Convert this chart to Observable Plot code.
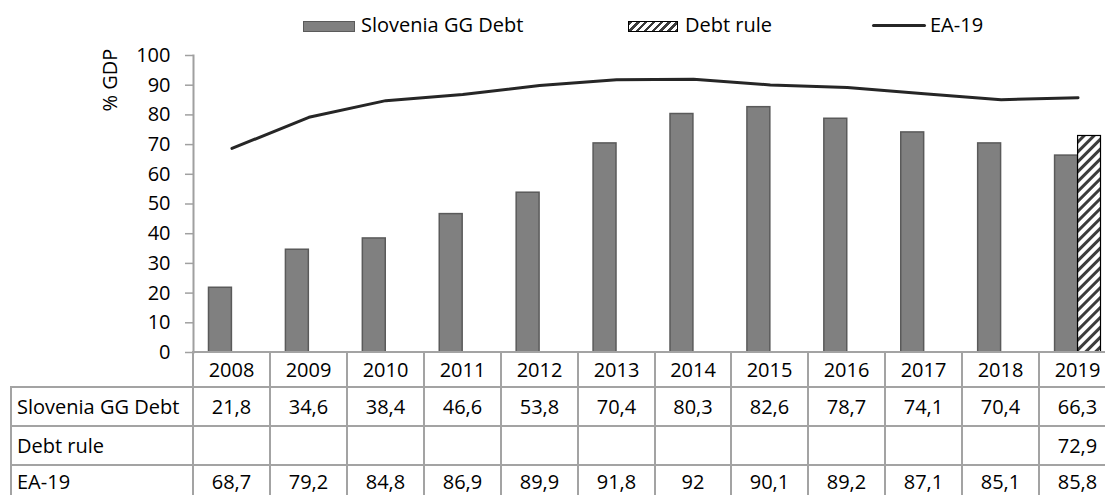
<!DOCTYPE html>
<html><head><meta charset="utf-8">
<script src="https://cdn.jsdelivr.net/npm/d3@7"></script>
<script src="https://cdn.jsdelivr.net/npm/@observablehq/plot@0.6"></script>
<style>
html,body{margin:0;padding:0;background:#fff;overflow:hidden;}
#wrap{position:relative;width:1105px;height:495px;overflow:hidden;font-family:"Open Sans",sans-serif;font-size:20px;color:#000;}
#wrap svg{position:absolute;left:0;top:0;max-width:none !important;}
.abs{position:absolute;white-space:nowrap;}
.cell{position:absolute;box-sizing:border-box;border:2px solid #a3a3a3;display:flex;align-items:center;justify-content:center;line-height:20px;}
.lab{justify-content:flex-start;padding-left:5px;}
.last{border-bottom:none;align-items:flex-start;padding-top:6px;}
</style></head><body><div id="wrap"></div>
<script>
const years = ["2008","2009","2010","2011","2012","2013","2014","2015","2016","2017","2018","2019"];
const sloveniaDebt = [21.8,34.6,38.4,46.6,53.8,70.4,80.3,82.6,78.7,74.1,70.4,66.3];
const debtRule = [null,null,null,null,null,null,null,null,null,null,null,72.9];
const ea19 = [68.7,79.2,84.8,86.9,89.9,91.8,92,90.1,89.2,87.1,85.1,85.8];
const seriesNames = ["Slovenia GG Debt","Debt rule","EA-19"];
const yTicks = [0,10,20,30,40,50,60,70,80,90,100];
const yLabel = "% GDP";

const data = years.map((y,i)=>({year:y, slo:sloveniaDebt[i], rule:debtRule[i], ea:ea19[i]}));
const fmt = v => v == null ? "" : String(v).replace(".", ",");

const wrap = document.getElementById("wrap");

const chart = Plot.plot({
  width: 1130, height: 360,
  marginLeft: 193, marginRight: 14, marginTop: 55, marginBottom: 8,
  style: {fontFamily: "'Open Sans', sans-serif", fontSize: "20px", color: "#000", background: "transparent", overflow: "visible", maxWidth: "none"},
  x: {domain: years, padding: 0, round: false, axis: null},
  y: {domain: [0,100], axis: null},
  marks: [
    Plot.axisY({ticks: yTicks, tickSize: 8, tickPadding: 15, stroke: "#a0a0a0", fill: "#000", strokeWidth: 1.5, label: null}),
    Plot.frame({anchor: "left", stroke: "#a0a0a0", strokeWidth: 2}),
    Plot.barY(data, {x: "year", y: "slo", fill: "#808080", stroke: "#5a5a5a", strokeWidth: 1.5, insetLeft: 15.5, insetRight: 38.5}),
    Plot.barY(data.filter(d => d.rule != null), {x: "year", y: "rule", fill: "url(#hatch)", stroke: "#000", strokeWidth: 1.2, insetLeft: 38.5, insetRight: 15.5}),
    Plot.lineY(data, {x: "year", y: "ea", stroke: "#262626", strokeWidth: 3, strokeLinejoin: "round", strokeLinecap: "round"})
  ]
});

// hatch pattern definition
const ns = "http://www.w3.org/2000/svg";
const defs = document.createElementNS(ns, "defs");
defs.innerHTML = '<pattern id="hatch" patternUnits="userSpaceOnUse" width="7" height="7" patternTransform="rotate(45)"><rect width="7" height="7" fill="#fff"/><rect width="3" height="7" fill="#3c3c3c"/></pattern>';
chart.insertBefore(defs, chart.firstChild);
wrap.appendChild(chart);

// Y label
const yl = document.createElement("div");
yl.className = "abs";
yl.textContent = yLabel;
yl.style.cssText = "left:110px;top:80px;transform:translate(-50%,-50%) rotate(-90deg);line-height:20px;";
wrap.appendChild(yl);

// Legend
function addDiv(css, text, cls) {
  const d = document.createElement("div");
  d.className = cls || "abs";
  d.style.cssText = css;
  if (text != null) d.textContent = text;
  wrap.appendChild(d);
  return d;
}
addDiv("left:303px;top:21px;width:52px;height:11px;box-sizing:border-box;background:#808080;border:1.5px solid #5a5a5a;");
addDiv("left:361px;top:13px;line-height:24px;", seriesNames[0]);
addDiv("left:628px;top:21px;width:50px;height:11px;box-sizing:border-box;border:1px solid #000;background:repeating-linear-gradient(135deg,#3c3c3c 0 2.4px,#fff 2.4px 5.5px);");
addDiv("left:685px;top:13px;line-height:24px;", seriesNames[1]);
addDiv("left:872px;top:24px;width:54px;height:3px;background:#262626;border-radius:2px;");
addDiv("left:930px;top:13px;line-height:24px;", seriesNames[2]);

// Data table, columns aligned to the plot's x scale
const xs = chart.scale("x");
const bw = xs.bandwidth;
const rows = [
  {label: null, top: 352, h: 35, vals: years},
  {label: seriesNames[0], top: 387, h: 39, vals: sloveniaDebt.map(fmt)},
  {label: seriesNames[1], top: 426, h: 39, vals: debtRule.map(fmt)},
  {label: seriesNames[2], top: 465, h: 30, vals: ea19.map(fmt), last: true}
];
const x0 = Math.round(xs.apply(years[0]));
rows.forEach(r => {
  const extra = r.last ? " last" : "";
  const hh = r.last ? r.h + 1 : r.h + 2;
  if (r.label != null) {
    addDiv(`left:${11-1}px;top:${r.top-1}px;width:${x0-11+2}px;height:${hh}px;`, r.label, "cell lab" + extra);
  }
  years.forEach((y, i) => {
    const xa = Math.round(xs.apply(y));
    const xb = Math.round(xs.apply(y) + bw);
    addDiv(`left:${xa-1}px;top:${r.top-1}px;width:${xb-xa+2}px;height:${hh}px;`, r.vals[i], "cell" + extra);
  });
});
</script></body></html>
